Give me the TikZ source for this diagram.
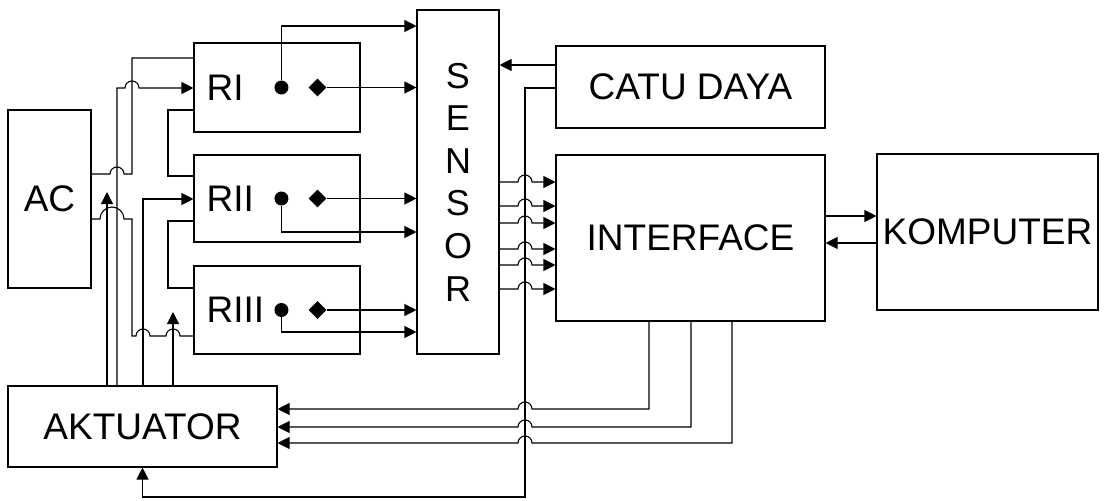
\documentclass[tikz,border=0pt]{standalone}
\usepackage{fontspec}
\setmainfont{Liberation Sans}
\usetikzlibrary{arrows.meta, shapes.geometric, positioning}

\begin{document}
\begin{tikzpicture}[x=1pt, y=-1pt, >={Triangle[length=12pt, width=12pt]},
    blok/.style={draw, line width=1.1pt, inner sep=0pt, font=\fontsize{37}{40}\selectfont},
    titik/.style={circle, fill, inner sep=0pt, minimum size=14pt},
    wajik/.style={diamond, fill, inner sep=0pt, minimum size=18pt},
    kabel/.style={line width=1.1pt}]
  \useasboundingbox (0,0) rectangle (1104,501);

  % Kotak utama
  \node[blok, minimum width=83pt, minimum height=178pt] (ac) at (49.5,199) {AC};
  \node[blok, minimum width=269pt, minimum height=81pt] (aktuator) at (142.5,426.5) {AKTUATOR};
  \node[blok, minimum width=166pt, minimum height=89pt] (ri) at (277,87.5) {};
  \node[blok, minimum width=166pt, minimum height=87pt] (rii) at (277,198.5) {};
  \node[blok, minimum width=166pt, minimum height=88pt] (riii) at (277,310) {};
  \node[blok, minimum width=82pt, minimum height=344pt, align=center,
        font=\fontsize{36}{42.6}\selectfont] (sensor) at (458,182) {S\\E\\N\\S\\O\\R};
  \node[blok, minimum width=269pt, minimum height=82pt] (catu) at (690.5,87) {CATU DAYA};
  \node[blok, minimum width=269pt, minimum height=166pt] (interface) at (690.5,238) {INTERFACE};
  \node[blok, minimum width=221pt, minimum height=156pt] (komputer) at (987.5,232) {KOMPUTER};

  % Relay: label, kontak bulat dan kontak wajik
  \foreach \r/\teks in {ri/RI, rii/RII, riii/RIII} {
    \node[anchor=west, inner sep=0pt, font=\fontsize{37}{40}\selectfont] (\r-teks)
        at ([xshift=13pt]\r.west) {\teks};
    \node[titik] (\r-titik) at ([xshift=88pt]\r.west) {};
    \node[wajik] (\r-wajik) at ([xshift=124pt]\r.west) {};
  }

  % Relay ke sensor
  \foreach \r in {ri, rii, riii}
    \draw[kabel, ->] (\r-wajik) -- (\r-wajik -| sensor.west);
  \draw[kabel, ->] (ri-titik) |- (sensor.west |- 0,26);
  \draw[kabel, ->] (rii-titik) |- (sensor.west |- 0,232);
  \draw[kabel, ->] (riii-titik) |- (sensor.west |- 0,332);

  % Catu daya
  \draw[kabel, ->] (catu.west |- 0,65) -- (sensor.east |- 0,65);
  \draw[kabel, ->] (catu.west |- 0,88) -| (525,497) -| (aktuator.south);

  % Sensor ke interface
  \foreach \y in {182, 206, 223, 249, 265, 289}
    \draw[kabel, ->] (sensor.east |- 0,\y) -- (518,\y)
        arc[start angle=180, end angle=0, radius=7pt] -- (interface.west |- 0,\y);

  % Interface dan komputer
  \draw[kabel, ->] (interface.east |- 0,216) -- (komputer.west |- 0,216);
  \draw[kabel, ->] (komputer.west |- 0,243) -- (interface.east |- 0,243);

  % Interface ke aktuator
  \foreach \x/\y in {649/409, 691/427, 732/443}
    \draw[kabel, ->] (interface.south -| \x,0) |- (532,\y)
        arc[start angle=0, end angle=180, radius=7pt] -- (aktuator.east |- 0,\y);

  % AC ke relay
  \draw[kabel] (ac.east |- 0,174) -- (110,174)
      arc[start angle=180, end angle=0, radius=7pt] -- (132,174) |- (ri.west |- 0,58);
  \draw[kabel] (ac.east |- 0,219) -- (100,219)
      arc[start angle=180, end angle=0, radius=12pt] -- (132,219) -- (132,336) -- (136,336)
      arc[start angle=180, end angle=0, radius=7pt] -- (166,336)
      arc[start angle=180, end angle=0, radius=7pt] -- (riii.west |- 0,336);
  \draw[kabel] (ri.west |- 0,110) -| (168,176) -- (rii.west |- 0,176);
  \draw[kabel] (rii.west |- 0,221) -| (168,288) -- (riii.west |- 0,288);

  % Aktuator ke relay
  \coordinate (ujung1) at (107,192);
  \coordinate (ujung2) at (173,312);
  \draw[kabel, ->] (aktuator.north -| ujung1) -- (ujung1);
  \draw[kabel, ->] (aktuator.north -| 117,0) -- (117,88) -- (125,88)
      arc[start angle=180, end angle=0, radius=7pt] -- (ri.west |- 0,88);
  \draw[kabel, ->] (aktuator.north -| 143,0) |- (rii.west |- 0,199);
  \draw[kabel, ->] (aktuator.north -| ujung2) -- (ujung2);
\end{tikzpicture}
\end{document}
